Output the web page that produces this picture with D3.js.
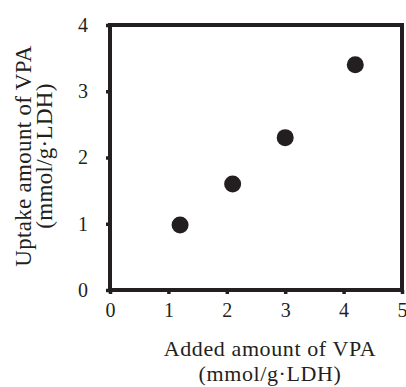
<!DOCTYPE html>
<html>
<head>
<meta charset="utf-8">
<script src="https://cdn.jsdelivr.net/npm/d3@7"></script>
<style>
  body { margin: 0; background: #fff; }
  svg text { font-family: "Liberation Serif", "Times New Roman", serif; fill: #231f20; }
</style>
</head>
<body>
<div id="chart"></div>
<script>
// data
var addedVPA = [1.2, 2.1, 3.0, 4.2];
var uptakeVPA = [0.98, 1.6, 2.3, 3.4];
var xTicks = [0, 1, 2, 3, 4, 5];
var yTicks = [0, 1, 2, 3, 4];

var W = 406, H = 387;
var margin = {top: 25, right: 4, bottom: 97, left: 110};
var width = W - margin.left - margin.right,
    height = H - margin.top - margin.bottom;

var svg = d3.select("#chart").append("svg")
    .attr("width", W).attr("height", H);

var g = svg.append("g")
    .attr("transform", "translate(" + margin.left + "," + margin.top + ")");

var x = d3.scaleLinear().domain([0, 5]).range([0, width]);
var y = d3.scaleLinear().domain([0, 4]).range([height, 0]);

//---- axes
var xAxis = d3.axisBottom(x).tickValues(xTicks).tickSize(4).tickPadding(9).tickFormat(d3.format("d"));
var yAxis = d3.axisLeft(y).tickValues(yTicks).tickSize(4).tickPadding(18).tickFormat(d3.format("d"));

var gx = g.append("g").attr("transform", "translate(0," + height + ")").call(xAxis);
var gy = g.append("g").call(yAxis);

[gx, gy].forEach(function(a) {
    a.attr("font-family", "Liberation Serif, serif").attr("font-size", 20);
    a.select(".domain").remove();
    a.selectAll(".tick line").attr("stroke", "#231f20").attr("stroke-width", 3.5);
    a.selectAll(".tick text").attr("fill", "#231f20").style("font-size", "20px");
});

// frame
g.append("rect")
    .attr("x", 0).attr("y", 0)
    .attr("width", width).attr("height", height)
    .attr("fill", "none").attr("stroke", "#231f20").attr("stroke-width", 4);

// points
g.selectAll("circle").data(addedVPA).enter()
    .append("circle")
    .attr("cx", function(d) { return x(d); })
    .attr("cy", function(d, i) { return y(uptakeVPA[i]); })
    .attr("r", 8.5)
    .attr("fill", "#231f20");

// axis titles
svg.append("text")
    .attr("x", 270).attr("y", 356)
    .attr("text-anchor", "middle").style("font-size", "22px").style("letter-spacing", "0.6px")
    .text("Added amount of VPA");
svg.append("text")
    .attr("x", 270).attr("y", 381)
    .attr("text-anchor", "middle").style("font-size", "22px").style("letter-spacing", "0.6px")
    .text("(mmol/g\u00b7LDH)");

svg.append("text")
    .attr("transform", "translate(31,156) rotate(-90)")
    .attr("text-anchor", "middle").style("font-size", "23px").style("letter-spacing", "0.3px")
    .text("Uptake amount of VPA");
svg.append("text")
    .attr("transform", "translate(52,156) rotate(-90)")
    .attr("text-anchor", "middle").style("font-size", "23px").style("letter-spacing", "0.3px")
    .text("(mmol/g\u00b7LDH)");
</script>
</body>
</html>
